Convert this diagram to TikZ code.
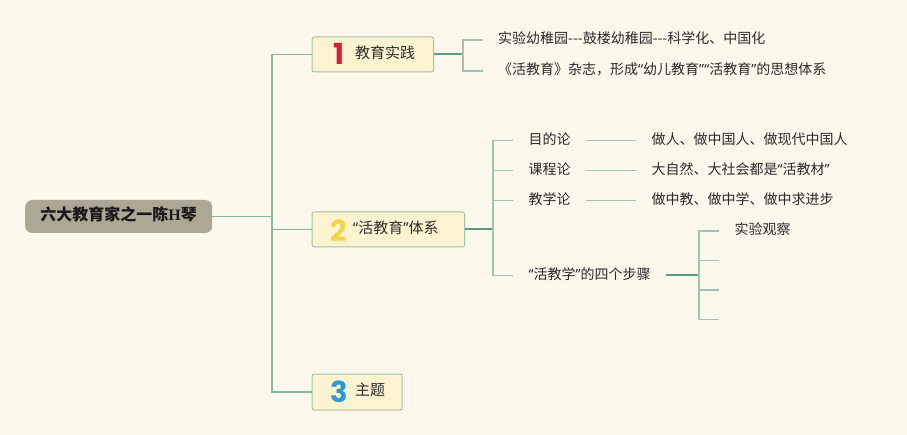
\documentclass[tikz,border=0pt]{standalone}
\usepackage{fontspec}
\setmainfont{Noto Sans CJK SC}[Ligatures=TeXOff]
\newfontfamily\numfont{Poppins}
\newfontfamily\serifH{Liberation Serif}
\newfontfamily\quotefont{Noto Sans}
\newcommand\myoq{{\quotefont “}}
\newcommand\mycq{{\quotefont ”}}
\definecolor{bg}{HTML}{FDF8EC}
\definecolor{nodefill}{HTML}{FDF3D0}
\definecolor{nodeborder}{HTML}{9EC4A9}
\definecolor{rootfill}{HTML}{ADA795}
\definecolor{trunkcol}{HTML}{8BB5A2}
\definecolor{stubcol}{HTML}{5F9C88}
\definecolor{twigcol}{HTML}{A3C4B5}
\definecolor{txtcol}{HTML}{2B2B2B}
\definecolor{numred}{HTML}{D81E2C}
\definecolor{numyellow}{HTML}{F3D54A}
\definecolor{numblue}{HTML}{2A9AD9}
\begin{document}
\begin{tikzpicture}[x=1pt,y=-1pt,
  topic/.style={draw=nodeborder, fill=nodefill, line width=1pt, rounded corners=2pt, minimum height=35pt, inner sep=0pt, anchor=west},
  rootbox/.style={fill=rootfill, rounded corners=7pt, minimum width=187pt, minimum height=33pt, inner sep=0pt, anchor=west,
    text height=0.88em, text depth=0.12em, font=\bfseries\fontsize{16}{16}\selectfont, text=black!90},
  txt/.style={inner sep=0pt, text height=0.88em, text depth=0.12em, font=\fontsize{14}{14}\selectfont, text=txtcol, anchor=west},
  topictxt/.style={txt, font=\fontsize{15}{15}\selectfont},
  leaf/.style={txt, outer xsep=15.5pt},
  num/.style={inner sep=0pt, font=\numfont\bfseries\fontsize{29}{29}\selectfont},
  trunk/.style={draw=trunkcol, line width=1.3pt},
  stub/.style={draw=stubcol, line width=2pt},
  twig/.style={draw=twigcol, line width=1.5pt}]
\useasboundingbox[fill=bg] (0,0) rectangle (907,435);

% root
\node[rootbox] (root) at (25,216.5) {六大教育家之一陈{\serifH\bfseries H}琴};

% topics
\node[topic, minimum width=121.3pt] (n1) at (311.7,54.5) {};
\node[topic, minimum width=152.3pt] (n2) at (311.7,229.5) {};
\node[topic, minimum width=90pt, minimum height=36pt] (n3) at (311.7,392) {};
\node[num, text=numred] (k1) at (338.5,54) {1};
\node[num, text=numyellow] (k2) at (339,230.3) {2};
\node[num, text=numblue] (k3) at (339,392) {3};
\node[topictxt] (t1) at (355,55) {教育实践};
\node[topictxt] (t2) at (352.7,229.5) {\myoq 活教育\mycq 体系};
\node[topictxt] (t3) at (355,392) {主题};

% trunk
\coordinate (tk1) at (272,54.5);
\coordinate (tk3) at (272,392);
\draw[trunk] (n1.west) -- (tk1) -- (tk3) -- (n3.west);
\draw[trunk] (root.east) -- (root.east -| tk1);
\draw[trunk] (n2.west) -- (n2.west -| tk1);

% branch 1
\node[leaf] (a1) at (482.7,40) {实验幼稚园---鼓楼幼稚园---科学化、中国化};
\node[leaf] (a2) at (482.7,71) {《活教育》杂志，形成\myoq 幼儿教育\mycq\myoq 活教育\mycq 的思想体系};
\coordinate (j1) at (463,54.5);
\draw[stub] (n1.east) -- (j1);
\draw[twig] (a1.west) -| (j1) |- (a2.west);

% branch 2
\node[leaf] (b1) at (513,140.5) {目的论};
\node[leaf] (b2) at (513,170.5) {课程论};
\node[leaf] (b3) at (513,200.5) {教学论};
\node[leaf] (b4) at (513,275.5) {\myoq 活教学\mycq 的四个步骤};
\coordinate (j2) at (493,229.5);
\draw[stub] (n2.east) -- (j2);
\draw[twig] (b1.west) -| (j2) |- (b4.west);
\draw[twig] (b2.west) -- (b2.west -| j2);
\draw[twig] (b3.west) -- (b3.west -| j2);

\node[leaf] (c1) at (636,140.5) {做人、做中国人、做现代中国人};
\node[leaf] (c2) at (636,170.5) {大自然、大社会都是\myoq 活教材\mycq};
\node[leaf] (c3) at (636,200.5) {做中教、做中学、做中求进步};
\draw[twig] (b1.east) -- (c1.west);
\draw[twig] (b2.east) -- (c2.west);
\draw[twig] (b3.east) -- (c3.west);

% steps
\node[leaf] (d1) at (719,231) {实验观察};
\coordinate (j3) at (699,275.5);
\coordinate (e2) at (719,260.5);
\coordinate (e3) at (719,290);
\coordinate (e4) at (719,319.5);
\draw[stub] (b4.east) -- (j3);
\draw[twig] (d1.west) -| (j3) |- (e4);
\draw[twig] (e2) -- (e2 -| j3);
\draw[twig] (e3) -- (e3 -| j3);
\end{tikzpicture}
\end{document}
